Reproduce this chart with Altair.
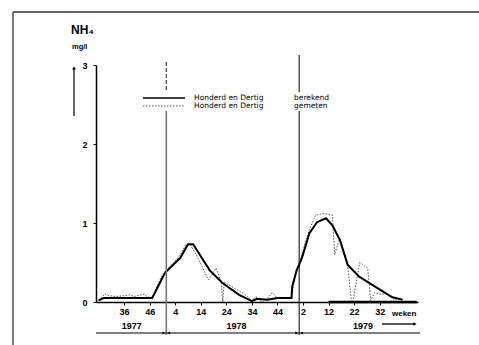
import altair as alt
import pandas as pd

# ---- data (continuous week index: 1977 week w -> w, 1978 -> 52+w, 1979 -> 104+w)
calc_t = [26, 28, 47, 52, 58, 61, 63, 69.5, 74.5, 81, 86, 88, 92, 96, 101.5, 101.8, 103.5, 105.5,
          108.5, 111.5, 115, 117.5, 120.5, 123.5, 128, 135, 141, 145]
calc_v = [0.02, 0.05, 0.05, 0.37, 0.56, 0.73, 0.73, 0.40, 0.24, 0.09, 0.01, 0.04, 0.03, 0.05, 0.05, 0.20,
          0.40, 0.55, 0.87, 1.01, 1.06, 0.97, 0.78, 0.47, 0.32, 0.18, 0.06, 0.03]

meas_t = [26, 28.5, 30, 33, 36, 38, 40, 44, 45, 47, 51, 53, 56, 58, 60, 62, 65, 69, 72, 74,
          74.6, 75.2, 81, 84, 86, 87.5, 90, 92, 94, 96, 101.5, 103, 105.5, 108.5, 111, 114, 117.5,
          118.4, 120.4, 122.3, 123.5, 125, 125.5, 128.2, 131.3, 132.5, 134, 136, 138.7, 141.9, 144.6]
meas_v = [0.02, 0.10, 0.08, 0.07, 0.08, 0.09, 0.07, 0.10, 0.06, 0.06, 0.35, 0.42, 0.52, 0.60, 0.72,
          0.72, 0.55, 0.28, 0.43, 0.25, 0.00, 0.25, 0.14, 0.08, 0.02, 0.07, 0.00, 0.04, 0.12, 0.05,
          0.05, 0.35, 0.60, 0.92, 1.10, 1.12, 1.10, 0.60, 0.82, 0.57, 0.45, 0.00, 0.00, 0.50, 0.43,
          0.02, 0.12, 0.10, 0.10, 0.03, 0.05]

tick_values = [36, 46, 56, 66, 76, 86, 96, 106, 116, 126, 136]
tick_labels = ["36", "46", "4", "14", "24", "34", "44", "2", "12", "22", "32"]
y_ticks = [0, 1, 2, 3]
years = ["1977", "1978", "1979"]
year_mid = [39, 80, 129.5]
year_starts = [52.5, 104.5]
legend_names = ["Honderd en Dertig", "Honderd en Dertig"]
legend_kinds = ["berekend", "gemeten"]

FONT = "Liberation Sans"
LFONT = "DejaVu Sans"
L, T = 96, 65          # plot origin in page pixels
W, H = 322, 237
XDOM = [25, 151]

xs = alt.Scale(domain=XDOM, nice=False, zero=False)
ys = alt.Scale(domain=[0, 3], nice=False)

label_expr = "{" + ",".join(f"'{v}':'{l}'" for v, l in zip(tick_values, tick_labels)) + "}[datum.value]"

calc_df = pd.DataFrame({"t": calc_t, "v": calc_v})
meas_df = pd.DataFrame({"t": meas_t, "v": meas_v})
one = pd.DataFrame({"a": [0]})

xaxis = alt.Axis(values=tick_values, labelExpr=label_expr, title=None, grid=False,
                 domainColor="black", domainWidth=1.5, tickColor="black", tickSize=3,
                 labelFont=FONT, labelFontSize=9, labelFontWeight="bold", labelColor="black",
                 labelPadding=2, labelOverlap=False, labelFlush=False)
yaxis = alt.Axis(values=y_ticks, format="d", title=None, grid=False, domainColor="black",
                 domainWidth=1.5, tickColor="black", tickSize=3, labelFont=FONT, labelFontSize=9,
                 labelFontWeight="bold", labelColor="black", labelPadding=6, labelOverlap=False)

meas = alt.Chart(meas_df).mark_line(color="#555555", strokeWidth=1, strokeDash=[1.5, 1.5]).encode(
    x=alt.X("t:Q", scale=xs, axis=xaxis),
    y=alt.Y("v:Q", scale=ys, axis=yaxis),
)
calc = alt.Chart(calc_df).mark_line(color="black", strokeWidth=2).encode(
    x=alt.X("t:Q", scale=xs, axis=xaxis),
    y=alt.Y("v:Q", scale=ys, axis=yaxis),
)


def rule(x1, y1, x2, y2, color="black", width=1.0, dash=None):
    kw = dict(color=color, strokeWidth=width)
    if dash:
        kw["strokeDash"] = dash
    return alt.Chart(one).mark_rule(**kw).encode(
        x=alt.value(x1 - L), y=alt.value(y1 - T), x2=alt.value(x2 - L), y2=alt.value(y2 - T))


def text(x, y, s, size=8, align="left", weight="bold", font=FONT):
    return alt.Chart(one).mark_text(text=s, font=font, fontSize=size, fontWeight=weight,
                                    align=align, baseline="middle", color="black").encode(
        x=alt.value(x - L), y=alt.value(y - T))


def tri(x, y, shape, size=18):
    return alt.Chart(one).mark_point(shape=shape, filled=True, color="black", size=size,
                                     opacity=1).encode(x=alt.value(x - L), y=alt.value(y - T))


x_of = lambda t: L + (t - XDOM[0]) * W / (XDOM[1] - XDOM[0])

layers = [meas, calc]

# year-start vertical lines (interrupted by the legend)
ya = x_of(year_starts[0])
yb = x_of(year_starts[1])
layers += [rule(ya, 62, ya, 92, "#444444", 1.2, [4, 2]), rule(ya, 111, ya, 335, "#777777", 1.6),
           rule(yb, 55, yb, 92, "black", 1.0), rule(yb, 111, yb, 335, "black", 1.0)]

# thick part of time axis
layers += [rule(x_of(116), 302, x_of(150.5), 302, "black", 2.5)]

# legend
layers += [rule(143, 98, 185, 98, "black", 1.3), rule(143, 106, 185, 106, "#555555", 1, [1.5, 1.5])]
for i, (n, k) in enumerate(zip(legend_names, legend_kinds)):
    yy = 98 + 8 * i
    layers += [text(194, yy, n, 7.5, weight="normal", font=LFONT),
               text(294, yy, k, 7.5, weight="normal", font=LFONT)]

# title and y arrow
layers += [text(71, 30, "NH₄", 12), text(72, 47, "mg/l", 7.5)]
layers += [rule(74, 68, 74, 116, "black", 1.2), tri(74, 68, "triangle-up", 14)]

# "weken" and time arrow
layers += [text(392, 314, "weken", 8), rule(382, 324, 414, 324, "black", 1.3),
           tri(415, 324, "triangle-right", 14)]

# year row
layers += [rule(96, 333, 420, 333, "black", 1.0)]
for xx in [ya, yb]:
    layers += [tri(xx - 2.5, 333, "triangle-right", 10), tri(xx + 2.5, 333, "triangle-left", 10)]
for yl, ym in zip(years, year_mid):
    layers += [text(x_of(ym), 326, yl, 9, "center")]

# scan frame
layers += [rule(13, 12, 479, 12, "#333333", 1.3), rule(13, 12, 13, 345, "#333333", 1.3)]

chart = alt.layer(*layers).properties(
    width=W, height=H,
    padding={"left": L, "top": T, "right": 479 - L - W, "bottom": 345 - T - H},
    autosize=alt.AutoSizeParams(type="none"),
    background="white",
).configure_view(stroke=None).configure_axis(labelOverlap=False)

chart.save("out.html", embed_options={"renderer": "svg", "actions": False})
